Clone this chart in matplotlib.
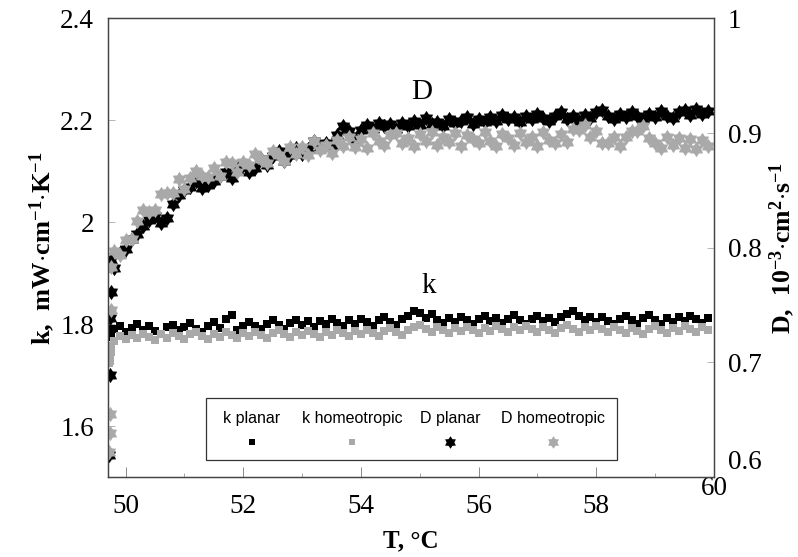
import matplotlib
matplotlib.use('Agg')
import matplotlib.pyplot as plt
import matplotlib.transforms as mtransforms
from matplotlib.patches import Rectangle
from matplotlib.path import Path
import numpy as np

plt.rcParams['font.family'] = 'Liberation Serif'
plt.rcParams['mathtext.fontset'] = 'custom'
plt.rcParams['mathtext.rm'] = 'Liberation Serif'
plt.rcParams['mathtext.bf'] = 'Liberation Serif:bold'

# temperature, degC (first five points are the start-up transient)
T = [49.72, 49.73, 49.74, 49.75, 49.76,
     49.8, 49.9, 50.0, 50.1, 50.2, 50.3, 50.4, 50.5, 50.6, 50.7,
     50.8, 50.9, 51.0, 51.1, 51.2, 51.3, 51.4, 51.5, 51.6, 51.7,
     51.8, 51.9, 52.0, 52.1, 52.2, 52.3, 52.4, 52.5, 52.6, 52.7,
     52.8, 52.9, 53.0, 53.1, 53.2, 53.3, 53.4, 53.5, 53.6, 53.7,
     53.8, 53.9, 54.0, 54.1, 54.2, 54.3, 54.4, 54.5, 54.6, 54.7,
     54.8, 54.9, 55.0, 55.1, 55.2, 55.3, 55.4, 55.5, 55.6, 55.7,
     55.8, 55.9, 56.0, 56.1, 56.2, 56.3, 56.4, 56.5, 56.6, 56.7,
     56.8, 56.9, 57.0, 57.1, 57.2, 57.3, 57.4, 57.5, 57.6, 57.7,
     57.8, 57.9, 58.0, 58.1, 58.2, 58.3, 58.4, 58.5, 58.6, 58.7,
     58.8, 58.9, 59.0, 59.1, 59.2, 59.3, 59.4, 59.5, 59.6, 59.7,
     59.8, 59.9]

# thermal conductivity k, mW/(cm K)
k_planar = [1.775, 1.780, 1.785, 1.790, 1.782,
     1.790, 1.797, 1.784, 1.793, 1.801, 1.789, 1.796, 1.786, 1.781, 1.794,
     1.799, 1.788, 1.795, 1.803, 1.791, 1.784, 1.797, 1.804, 1.792, 1.811,
     1.818, 1.788, 1.796, 1.805, 1.797, 1.790, 1.801, 1.808, 1.798, 1.791,
     1.803, 1.809, 1.799, 1.806, 1.795, 1.807, 1.800, 1.810, 1.803, 1.796,
     1.808, 1.801, 1.811, 1.804, 1.797, 1.809, 1.815, 1.804, 1.798, 1.810,
     1.817, 1.826, 1.821, 1.812, 1.819, 1.808, 1.802, 1.812, 1.805, 1.815,
     1.808, 1.800, 1.810, 1.816, 1.806, 1.813, 1.803, 1.811, 1.818, 1.808,
     1.801, 1.811, 1.816, 1.806, 1.813, 1.804, 1.814, 1.820, 1.826, 1.817,
     1.809, 1.815, 1.805, 1.814, 1.807, 1.800, 1.811, 1.817, 1.808, 1.801,
     1.812, 1.818, 1.808, 1.801, 1.812, 1.805, 1.814, 1.807, 1.816, 1.810,
     1.802, 1.812]

k_homeo = [1.723, 1.728, 1.735, 1.745, 1.757,
     1.767, 1.776, 1.770, 1.779, 1.772, 1.781, 1.775, 1.768, 1.780, 1.773,
     1.782, 1.776, 1.770, 1.780, 1.785, 1.777, 1.771, 1.781, 1.775, 1.784,
     1.778, 1.772, 1.782, 1.776, 1.785, 1.779, 1.773, 1.783, 1.788, 1.780,
     1.774, 1.784, 1.778, 1.787, 1.781, 1.775, 1.785, 1.779, 1.788, 1.782,
     1.776, 1.786, 1.780, 1.789, 1.783, 1.777, 1.787, 1.792, 1.784, 1.778,
     1.788, 1.794, 1.798, 1.790, 1.785, 1.794, 1.788, 1.782, 1.792, 1.786,
     1.795, 1.789, 1.783, 1.793, 1.787, 1.796, 1.790, 1.784, 1.794, 1.788,
     1.797, 1.791, 1.785, 1.795, 1.789, 1.783, 1.793, 1.798, 1.790, 1.784,
     1.794, 1.788, 1.797, 1.791, 1.785, 1.795, 1.789, 1.783, 1.793, 1.787,
     1.781, 1.791, 1.797, 1.789, 1.783, 1.793, 1.787, 1.796, 1.790, 1.784,
     1.794, 1.788]

# thermal diffusivity D, 1e-3 cm2/s
D_planar = [0.619, 0.689, 0.739, 0.761, 0.789,
     0.782, 0.795, 0.799, 0.808, 0.812, 0.819, 0.824, 0.828, 0.822, 0.826,
     0.838, 0.846, 0.850, 0.853, 0.858, 0.852, 0.855, 0.858, 0.863, 0.866,
     0.861, 0.868, 0.872, 0.866, 0.870, 0.877, 0.872, 0.880, 0.884, 0.876,
     0.881, 0.887, 0.882, 0.886, 0.893, 0.888, 0.891, 0.889, 0.898, 0.906,
     0.902, 0.895, 0.903, 0.907, 0.904, 0.909, 0.906, 0.908, 0.904, 0.909,
     0.906, 0.911, 0.907, 0.913, 0.908, 0.910, 0.906, 0.912, 0.909, 0.911,
     0.914, 0.908, 0.912, 0.910, 0.914, 0.911, 0.916, 0.912, 0.914, 0.910,
     0.915, 0.912, 0.917, 0.913, 0.911, 0.915, 0.918, 0.912, 0.915, 0.911,
     0.916, 0.913, 0.918, 0.920, 0.915, 0.912, 0.917, 0.914, 0.918, 0.915,
     0.912, 0.917, 0.914, 0.919, 0.915, 0.913, 0.918, 0.920, 0.916, 0.921,
     0.917, 0.919]

D_homeo = [0.622, 0.638, 0.655, 0.746, 0.783,
     0.797, 0.794, 0.807, 0.808, 0.823, 0.833, 0.831, 0.833, 0.847, 0.848,
     0.848, 0.860, 0.851, 0.861, 0.867, 0.863, 0.862, 0.870, 0.863, 0.875,
     0.874, 0.866, 0.875, 0.872, 0.882, 0.877, 0.874, 0.884, 0.881, 0.876,
     0.888, 0.882, 0.888, 0.881, 0.893, 0.885, 0.890, 0.883, 0.894, 0.889,
     0.897, 0.888, 0.895, 0.887, 0.900, 0.893, 0.890, 0.898, 0.900, 0.891,
     0.896, 0.889, 0.899, 0.893, 0.901, 0.890, 0.897, 0.892, 0.900, 0.889,
     0.898, 0.895, 0.891, 0.901, 0.893, 0.889, 0.899, 0.896, 0.890, 0.900,
     0.892, 0.897, 0.889, 0.901, 0.894, 0.891, 0.899, 0.892, 0.904, 0.903,
     0.907, 0.897, 0.902, 0.891, 0.891, 0.897, 0.889, 0.897, 0.902, 0.902,
     0.906, 0.896, 0.891, 0.887, 0.897, 0.890, 0.896, 0.887, 0.895, 0.886,
     0.894, 0.889]

legend_labels = ['k planar', 'k homeotropic', 'D planar', 'D homeotropic']

gray = '#a9a9a9'

# six-pointed star (hexagram) marker
ang = np.pi / 2 + np.arange(12) * np.pi / 6
rad = np.where(np.arange(12) % 2 == 0, 1.0, 0.62)
verts = np.column_stack([rad * np.cos(ang), rad * np.sin(ang)])
star = Path(np.vstack([verts, verts[:1]]), closed=True)

fig = plt.figure(figsize=(7.98, 5.57), dpi=100)
ax = fig.add_axes([0.1353, 0.1436, 0.7594, 0.8232])
ax2 = ax.twinx()

ax.plot(T, k_planar, ls='none', marker='s', ms=5.5, color='black', mew=0)
ax.plot(T, k_homeo, ls='none', marker='s', ms=5.5, color=gray, mew=0)
ax2.plot(T, D_planar, ls='none', marker=star, ms=11, color='black', mew=0)
ax2.plot(T, D_homeo, ls='none', marker=star, ms=11, color=gray, mew=0)

ax.set_xlim(49.7, 60)
ax.set_ylim(1.5, 2.4)
ax2.set_ylim(0.6, 1.0)

ax.set_xticks([50, 52, 54, 56, 58, 60])
ax.set_xticklabels(['50', '52', '54', '56', '58', '60'])
ax.set_xticks([51, 53, 55, 57, 59], minor=True)
ax.set_yticks([1.6, 1.8, 2.0, 2.2, 2.4])
ax.set_yticklabels(['1.6', '1.8', '2', '2.2', '2.4'])
ax2.set_yticks([0.6, 0.7, 0.8, 0.9, 1.0])
ax2.set_yticklabels(['0.6', '0.7', '0.8', '0.9', '1'])

ax.tick_params(axis='x', which='major', direction='in', length=7, width=0.6,
               color='#777777', labelsize=19.5, pad=12)
ax.tick_params(axis='x', which='minor', direction='in', length=3, width=0.6,
               color='#999999')
ax.tick_params(axis='y', direction='in', length=5, width=0.6, color='#aaaaaa',
               labelsize=19.5, pad=10)
ax2.tick_params(axis='y', direction='in', length=5, width=0.6, color='#aaaaaa',
                labelsize=19.5, pad=10)

for a in (ax, ax2):
    for s in a.spines.values():
        s.set_color('#444444')
        s.set_linewidth(0.9)

# the bottom-right labels sit a little higher in the original
lift = mtransforms.ScaledTranslation(0, 0.18, fig.dpi_scale_trans)
t0 = ax2.yaxis.get_major_ticks()[0]
t0.label2.set_transform(t0.label2.get_transform() + lift)
t60 = ax.xaxis.get_major_ticks()[-1]
t60.label1.set_transform(t60.label1.get_transform() + lift)

ax.set_xlabel('T, \u00b0C', fontsize=18, fontweight='bold', labelpad=8)
ax.set_ylabel(r'$\mathbf{k,\ mW{\cdot}cm^{-1}{\cdot}K^{-1}}$', fontsize=19, labelpad=2.5)
ax2.set_ylabel(r'$\mathbf{D,\ 10^{-3}{\cdot}cm^{2}{\cdot}s^{-1}}$', fontsize=18.5, labelpad=4)

ax2.text(55.04, 0.936, 'D', fontsize=21, ha='center', va='center')
ax.text(55.16, 1.875, 'k', fontsize=21, ha='center', va='center')

# legend box: labels above their markers
lx0, lx1, ly0, ly1 = 0.1617, 0.840, 0.0371, 0.1723
ax2.add_patch(Rectangle((lx0, ly0), lx1 - lx0, ly1 - ly0, transform=ax2.transAxes,
                        facecolor='white', edgecolor='#333333', linewidth=0.9,
                        zorder=10))
lcols = [0.2376, 0.4026, 0.5644, 0.7343]
lstyles = [('s', 4.3, 'black'), ('s', 4.3, gray), (star, 9, 'black'), (star, 9, gray)]
for xc, lab, (m, size, c) in zip(lcols, legend_labels, lstyles):
    ax2.text(xc, 0.128, lab, transform=ax2.transAxes, ha='center', va='center',
             fontsize=11.5, family='Liberation Sans', zorder=11)
    ax2.plot([xc], [0.076], transform=ax2.transAxes, ls='none', marker=m, ms=size,
             color=c, mew=0, zorder=11, clip_on=False)

fig.savefig('out.png', dpi=100)
